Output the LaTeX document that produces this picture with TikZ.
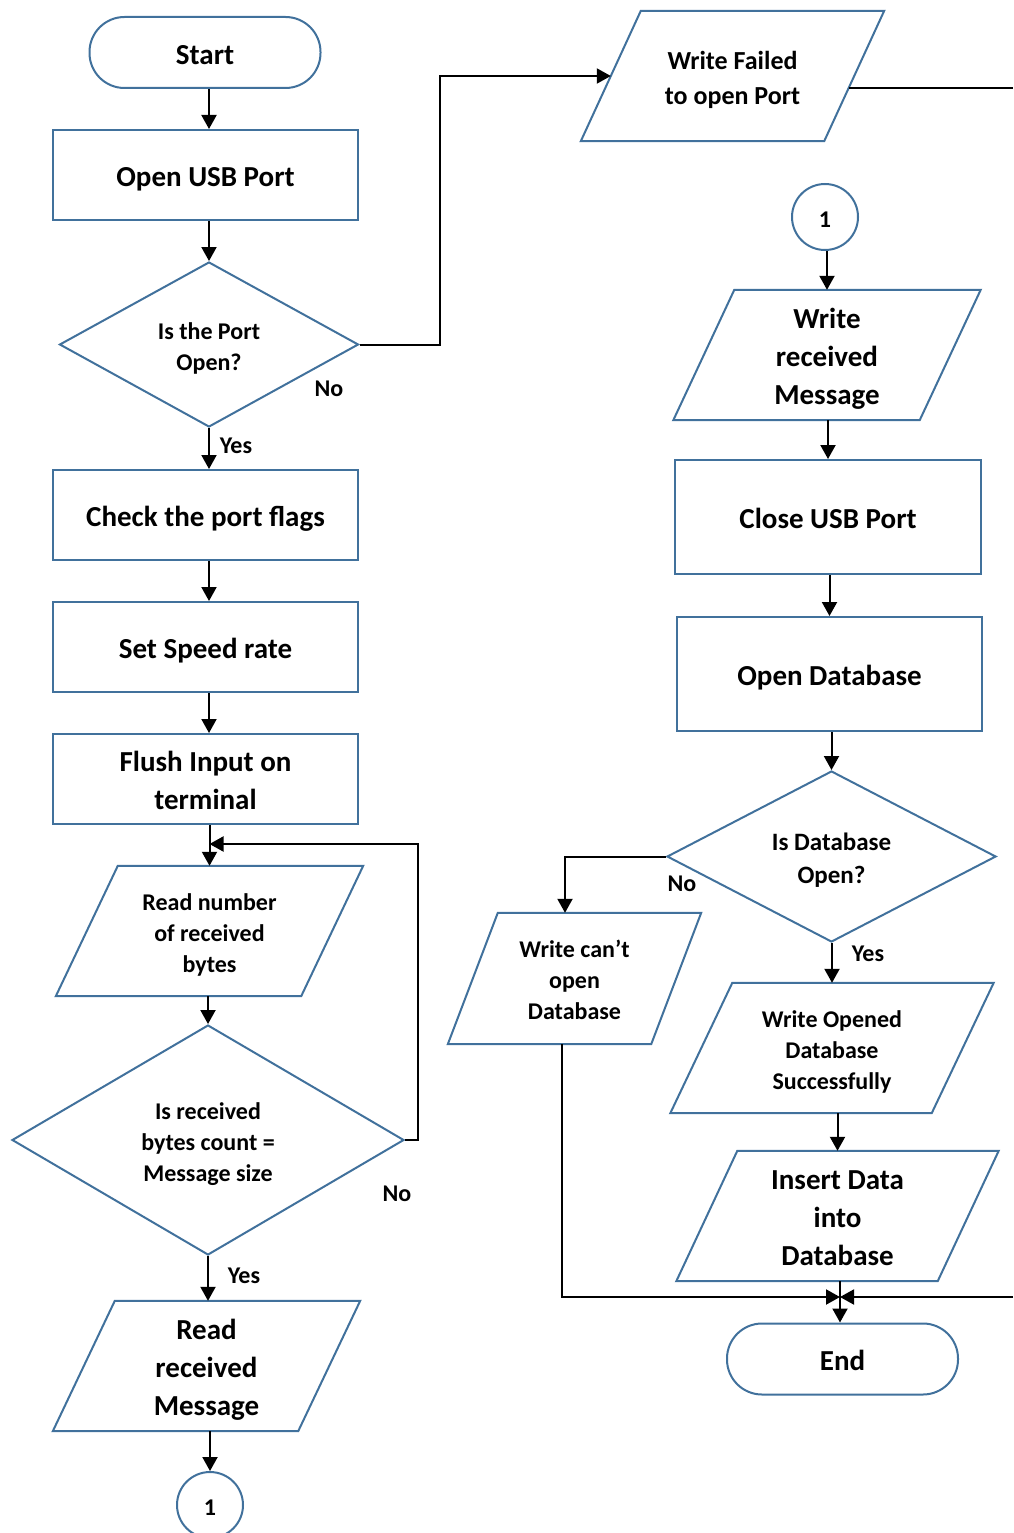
\documentclass[tikz,border=0pt]{standalone}
\usepackage{fontspec}
\setmainfont{Carlito}
\usetikzlibrary{shapes.geometric,arrows.meta,calc}
\definecolor{shapeblue}{HTML}{41719C}
% centred block of lines, set a little low in its shape
\newcommand{\boxtext}[1]{\raisebox{-4pt}[\height][\depth]{\begin{tabular}{@{}c@{}}#1\end{tabular}}}
\begin{document}
\begin{tikzpicture}[x=1pt,y=-1pt,
  outline/.style={draw=shapeblue,line width=2pt},
  base/.style={outline,fill=white,inner sep=0pt},
  bigtext/.style={font=\bfseries\fontsize{29}{38}\selectfont},
  midtext/.style={font=\bfseries\fontsize{26}{35}\selectfont},
  smalltext/.style={font=\bfseries\fontsize{24}{31}\selectfont},
  procbox/.style={base,rectangle,minimum width=305pt,minimum height=90pt,bigtext},
  termbox/.style={base,rectangle,rounded corners=35pt,minimum width=231pt,minimum height=71pt,bigtext},
  iobox/.style={rectangle,inner sep=0pt,minimum width=#1,minimum height=130pt,smalltext},
  decbox/.style={base,diamond,aspect=1.8,smalltext},
  connbox/.style={base,circle,minimum size=66pt,smalltext},
  lbl/.style={inner sep=0pt,smalltext},
  wire/.style={draw=black,line width=2pt},
  arr/.style={wire,-{Triangle[length=14pt,width=15pt]}}
]
\clip (0,0) rectangle (1013,1533);
\useasboundingbox (0,0) rectangle (1013,1533);

% left column
\node[termbox] (start) at (205,52.5) {\boxtext{Start}};
\node[procbox] (openusb) at (205.5,175) {\boxtext{Open USB Port}};
\node[decbox,minimum width=299pt,minimum height=165pt] (portopen) at (209,344.5) {\boxtext{Is the Port\\Open?}};
\node[procbox] (flags) at (205.5,515) {\boxtext{Check the port flags}};
\node[procbox] (speed) at (205.5,647) {\boxtext{Set Speed rate}};
\node[procbox] (flush) at (205.5,779) {\boxtext{Flush Input on\\terminal}};
\node[iobox=245pt] (readnum) at (209.5,931) {\boxtext{Read number\\of received\\bytes}};
\node[decbox,minimum width=392pt,minimum height=230pt] (sizeok) at (208,1140) {\boxtext{Is received\\bytes count =\\Message size}};
\node[iobox=245pt,bigtext] (readmsg) at (206.5,1366) {\boxtext{Read\\received\\Message}};
\node[connbox] (goto1) at (210,1505) {\boxtext{1}};

% right column
\node[iobox=243pt,midtext] (wfail) at (732.5,76) {\boxtext{Write Failed\\to open Port}};
\node[connbox] (from1) at (825,217) {\boxtext{1}};
\node[iobox=246pt,bigtext] (writemsg) at (827,355) {\boxtext{Write\\received\\Message}};
\node[procbox,minimum width=306pt,minimum height=114pt] (closeusb) at (828,517) {\boxtext{Close USB Port}};
\node[procbox,minimum height=114pt] (opendb) at (829.5,674) {\boxtext{Open Database}};
\node[decbox,minimum width=329pt,minimum height=171pt,aspect=1.92,font=\bfseries\fontsize{25}{33}\selectfont] (dbopen) at (831.5,856.5) {\boxtext{Is Database\\Open?}};
\node[iobox=203pt,minimum height=131pt] (dbfail) at (574.5,978.5) {\boxtext{Write can’t\\open\\Database}};
\node[iobox=261pt] (dbok) at (832,1048) {\boxtext{Write Opened\\Database\\Successfully}};
\node[iobox=261pt,bigtext] (insert) at (837.5,1216) {\boxtext{Insert Data\\into\\Database}};
\node[termbox] (end) at (842.5,1359) {\boxtext{End}};

% parallelogram outlines around the input/output nodes
\foreach \n/\s in {wfail/60,writemsg/61,readnum/62,readmsg/62,dbfail/50,dbok/62,insert/61}
  \draw[outline,line join=miter]
    ([xshift=\s*0.5pt]\n.north west) -- ([xshift=\s*0.5pt]\n.north east) --
    ([xshift=-\s*0.5pt]\n.south east) -- ([xshift=-\s*0.5pt]\n.south west) -- cycle;

% branch labels
\node[lbl] (yes1) at (236,446) {Yes};
\node[lbl] (no1) at (329,389) {No};
\node[lbl] (no2) at (397,1194) {No};
\node[lbl] (yes2) at (244,1276) {Yes};
\node[lbl] (no3) at (682,884) {No};
\node[lbl] (yes3) at (868,954) {Yes};

% junction points
\coordinate (jport) at (440,76);
\coordinate (loopc) at (418,844);
\coordinate (edge1) at (1013,88);
\coordinate (edge2) at (1013,1297);
\coordinate (merge) at (840,1297);

% left column connectors
\draw[arr] (start.south -| portopen) -- (openusb.north -| portopen);
\draw[arr] (openusb.south -| portopen) -- (portopen.north);
\draw[arr] (portopen.south) -- (flags.north -| portopen);
\draw[arr] (flags.south -| portopen) -- (speed.north -| portopen);
\draw[arr] (speed.south -| portopen) -- (flush.north -| portopen);
\draw[arr] (flush.south -| readnum) -- (readnum.north);
\draw[arr] (readnum.south -| sizeok) -- (sizeok.north);
\draw[arr] (sizeok.south) -- (readmsg.north -| sizeok);
\draw[arr] (readmsg.south -| goto1) -- (goto1.north);
\draw[arr] (sizeok.east) -| (loopc) -- (loopc -| readnum.north);
\draw[arr] (portopen.east) -| (jport) -- (wfail.west);
\draw[wire] ($(wfail.east)+(-5.5,12)$) -- (edge1);

% right column connectors
\draw[arr] (from1.south -| writemsg) -- (writemsg.north);
\draw[arr] (writemsg.south -| closeusb) -- (closeusb.north);
\draw[arr] (closeusb.south -| opendb) -- (opendb.north);
\draw[arr] (opendb.south -| dbopen) -- (dbopen.north);
\draw[arr] (dbopen.south -| dbok) -- (dbok.north);
\draw[arr] (dbopen.west) -| ([xshift=-9.5pt]dbfail.north);
\draw[arr] (dbok.south -| insert) -- (insert.north);
\draw[arr] (insert.south -| merge) -- (end.north -| merge);
\draw[arr] ([xshift=-12.5pt]dbfail.south) |- (merge);
\draw[arr] (edge2) -- (merge);
\end{tikzpicture}
\end{document}
